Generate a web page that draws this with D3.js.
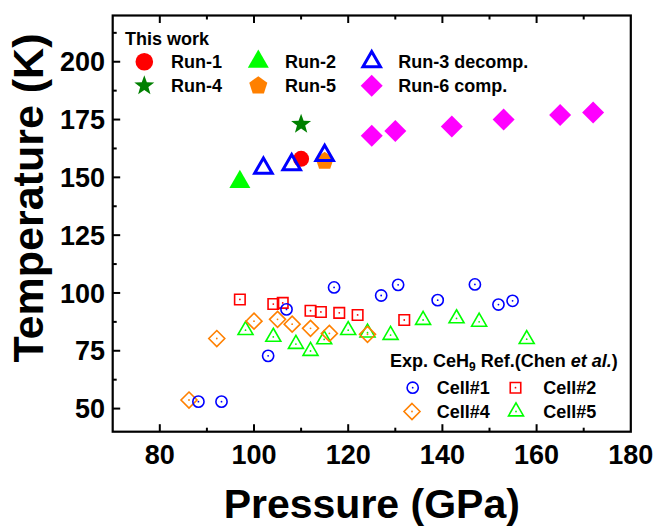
<!DOCTYPE html>
<html>
<head>
<meta charset="utf-8">
<script src="https://cdn.jsdelivr.net/npm/d3@7"></script>
<style>
  html, body { margin: 0; padding: 0; background: #fff; }
  svg { display: block; font-family: "Liberation Sans", Arial, sans-serif; font-weight: bold; }
</style>
</head>
<body>
<svg id="chart" width="655" height="528"></svg>
<script>
// ---- Data (Pressure in GPa, Temperature in K) ----
const run1P = [110];            const run1T = [158];
const run2P = [97];             const run2T = [148];
const run3P = [102, 108, 115];  const run3T = [154, 155.5, 159.5];
const run4P = [110];            const run4T = [173];
const run5P = [115];            const run5T = [157];
const run6P = [125, 130, 142, 153, 165, 172];
const run6T = [168, 170, 172, 175, 177, 178];

const cell1P = [88.2, 93.1, 103.0, 106.9, 117.0, 127.0, 130.6, 139.0, 146.9, 151.9, 154.9];
const cell1T = [53.0, 53.0, 72.8, 92.9, 102.4, 98.9, 103.5, 96.9, 103.7, 95.0, 96.6];
const cell2P = [97.0, 104.1, 106.1, 112.0, 114.2, 118.1, 122.0, 131.9];
const cell2T = [97.2, 95.2, 95.7, 92.3, 91.8, 91.4, 90.5, 88.3];
const cell4P = [86.2, 92.1, 100.0, 105.0, 108.1, 112.0, 116.0, 124.1];
const cell4T = [53.7, 80.3, 87.8, 88.6, 86.5, 84.7, 82.5, 82.1];
const cell5P = [98.2, 104.1, 108.9, 112.0, 114.9, 120.0, 124.1, 129.0, 135.9, 143.0, 147.8, 157.9];
const cell5T = [83.9, 81.0, 77.9, 74.9, 79.9, 83.9, 82.8, 81.8, 88.3, 89.0, 87.5, 80.0];

const xTicks = [80, 100, 120, 140, 160, 180];
const yTicks = [50, 75, 100, 125, 150, 175, 200];
const xLabel = "Pressure (GPa)";
const yLabel = "Temperature (K)";

// ---- Layout ----
const svg = d3.select("#chart");
const L = 112.7, R = 630.8, T = 15.5, B = 431.7;
const x = d3.scaleLinear().domain([70, 180]).range([L, R]);
const y = d3.scaleLinear().domain([40, 220]).range([B, T]);

const zip = (a, b) => a.map((v, i) => [v, b[i]]);

// ---- Marker path generators (centered at 0,0) ----
function triPath(w) { // centroid at origin
  const h = w * Math.sqrt(3) / 2;
  return `M0,${-2*h/3}L${w/2},${h/3}L${-w/2},${h/3}Z`;
}
function diamondPath(d) { const r = d/2; return `M0,${-r}L${r},0L0,${r}L${-r},0Z`; }
function squarePath(s) { const r = s/2; return `M${-r},${-r}H${r}V${r}H${-r}Z`; }
function polyStar(n, ro, ri) {
  let p = "";
  for (let i = 0; i < 2*n; i++) {
    const rr = (i % 2 === 0) ? ro : ri;
    const a = -Math.PI/2 + i * Math.PI / n;
    p += (i ? "L" : "M") + (rr*Math.cos(a)).toFixed(2) + "," + (rr*Math.sin(a)).toFixed(2);
  }
  return p + "Z";
}
function pentagon(r) {
  let p = "";
  for (let i = 0; i < 5; i++) {
    const a = -Math.PI/2 + i * 2*Math.PI/5;
    p += (i ? "L" : "M") + (r*Math.cos(a)).toFixed(2) + "," + (r*Math.sin(a)).toFixed(2);
  }
  return p + "Z";
}

const styles = {
  run1: { d: null, circle: 8, fill: "#ff0000", stroke: "none", sw: 0 },
  run2: { d: triPath(21), fill: "#00ff00", stroke: "none", sw: 0 },
  run3: { d: triPath(17.5), fill: "none", stroke: "#0000ff", sw: 3 },
  run4: { d: polyStar(5, 10.5, 4.3), fill: "#008000", stroke: "none", sw: 0 },
  run5: { d: pentagon(9.5), fill: "#ff8000", stroke: "none", sw: 0 },
  run6: { d: diamondPath(22), fill: "#ff00ff", stroke: "none", sw: 0 },
  cell1: { d: null, circle: 5.6, fill: "none", stroke: "#0000ff", sw: 1.6, dot: true },
  cell2: { d: squarePath(10.5), fill: "none", stroke: "#ff0000", sw: 1.6, dot: true },
  cell4: { d: diamondPath(16), fill: "none", stroke: "#ff8000", sw: 1.6, dot: true },
  cell5: { d: triPath(15), fill: "none", stroke: "#00ff00", sw: 1.6, dot: true }
};

function drawMarker(g, st, cx, cy) {
  const m = g.append("g").attr("transform", `translate(${cx},${cy})`);
  if (st.circle) {
    m.append("circle").attr("r", st.circle).attr("fill", st.fill)
      .attr("stroke", st.stroke).attr("stroke-width", st.sw);
  } else {
    m.append("path").attr("d", st.d).attr("fill", st.fill)
      .attr("stroke", st.stroke).attr("stroke-width", st.sw).attr("stroke-linejoin", "miter");
  }
  if (st.dot) m.append("circle").attr("r", 0.9).attr("fill", st.stroke);
}

function drawSeries(P, Tv, st) {
  const g = svg.append("g");
  zip(P, Tv).forEach(([p, t]) => drawMarker(g, st, x(p), y(t)));
}

// ---- Data markers ----
drawSeries(cell5P, cell5T, styles.cell5);
drawSeries(cell4P, cell4T, styles.cell4);
drawSeries(cell2P, cell2T, styles.cell2);
drawSeries(cell1P, cell1T, styles.cell1);
drawSeries(run1P, run1T, styles.run1);
drawSeries(run2P, run2T, styles.run2);
drawSeries(run4P, run4T, styles.run4);
drawSeries(run5P, run5T, styles.run5);
drawSeries(run6P, run6T, styles.run6);
drawSeries(run3P, run3T, styles.run3);

// ---- Axes ----
const xMinor = d3.range(70, 181, 10).filter(v => !xTicks.includes(v) && v > 70 && v < 180);
const yMinor = d3.range(62.5, 220, 25);

const axG = svg.append("g").attr("stroke", "#000").attr("stroke-width", 2);
xTicks.filter(v => v < 180).forEach(v => {
  axG.append("line").attr("x1", x(v)).attr("x2", x(v)).attr("y1", B).attr("y2", B - 7.5);
  axG.append("line").attr("x1", x(v)).attr("x2", x(v)).attr("y1", T).attr("y2", T + 7.5);
});
xMinor.forEach(v => {
  axG.append("line").attr("x1", x(v)).attr("x2", x(v)).attr("y1", B).attr("y2", B - 4);
  axG.append("line").attr("x1", x(v)).attr("x2", x(v)).attr("y1", T).attr("y2", T + 4);
});
yTicks.forEach(v => {
  axG.append("line").attr("x1", L).attr("x2", L + 7.5).attr("y1", y(v)).attr("y2", y(v));
});
yMinor.forEach(v => {
  axG.append("line").attr("x1", L).attr("x2", L + 4).attr("y1", y(v)).attr("y2", y(v));
});
svg.append("rect").attr("x", L).attr("y", T).attr("width", R - L).attr("height", B - T)
  .attr("fill", "none").attr("stroke", "#000").attr("stroke-width", 2.2);

// tick labels
svg.append("g").selectAll("text").data(xTicks).join("text")
  .attr("x", d => x(d)).attr("y", 463.5).attr("text-anchor", "middle")
  .attr("font-size", 27).text(d => d);
svg.append("g").selectAll("text").data(yTicks).join("text")
  .attr("x", 105).attr("y", d => y(d) + 9.7).attr("text-anchor", "end")
  .attr("font-size", 27).text(d => d);

// axis titles
svg.append("text").attr("x", (L + R) / 2).attr("y", 518).attr("text-anchor", "middle")
  .attr("font-size", 41).text(xLabel);
svg.append("text").attr("transform", "translate(43,198) rotate(-90)").attr("text-anchor", "middle")
  .attr("font-size", 43).text(yLabel);

// ---- Legend: This work ----
const lg = svg.append("g").attr("font-size", 18);
lg.append("text").attr("x", 125).attr("y", 44.5).text("This work");
const run1Leg = Object.assign({}, styles.run1, { circle: 8.8 });
const topLegend = [
  { st: run1Leg, label: "Run-1", sx: 144.3, tx: 171, cy: 61.7 },
  { st: styles.run2, label: "Run-2", sx: 258.3, tx: 285, cy: 61.7 },
  { st: styles.run3, label: "Run-3 decomp.", sx: 371.7, tx: 398.3, cy: 61.7 },
  { st: styles.run4, label: "Run-4", sx: 144.3, tx: 171, cy: 85.7 },
  { st: styles.run5, label: "Run-5", sx: 258.3, tx: 285, cy: 85.7 },
  { st: styles.run6, label: "Run-6 comp.", sx: 371.7, tx: 398.3, cy: 85.7 }
];
topLegend.forEach(e => {
  drawMarker(lg, e.st, e.sx, e.cy);
  lg.append("text").attr("x", e.tx).attr("y", e.cy + 6.4).text(e.label);
});

// ---- Legend: Exp. CeH9 ----
const lg2 = svg.append("g").attr("font-size", 18);
const ttl = lg2.append("text").attr("x", 390).attr("y", 366.5);
ttl.append("tspan").text("Exp. CeH");
ttl.append("tspan").attr("font-size", 12).attr("dy", 4).text("9");
ttl.append("tspan").attr("dy", -4).text(" Ref.(Chen ");
ttl.append("tspan").attr("font-style", "italic").text("et al.");
ttl.append("tspan").text(")");
const botLegend = [
  { st: styles.cell1, label: "Cell#1", sx: 412.7, tx: 436.7, cy: 387.7 },
  { st: styles.cell2, label: "Cell#2", sx: 515.5, tx: 543.3, cy: 387.7 },
  { st: styles.cell4, label: "Cell#4", sx: 412, tx: 436.7, cy: 411.5 },
  { st: styles.cell5, label: "Cell#5", sx: 516, tx: 543.3, cy: 411.5 }
];
botLegend.forEach(e => {
  drawMarker(lg2, e.st, e.sx, e.cy);
  lg2.append("text").attr("x", e.tx).attr("y", e.cy + 6.5).text(e.label);
});
</script>
</body>
</html>
